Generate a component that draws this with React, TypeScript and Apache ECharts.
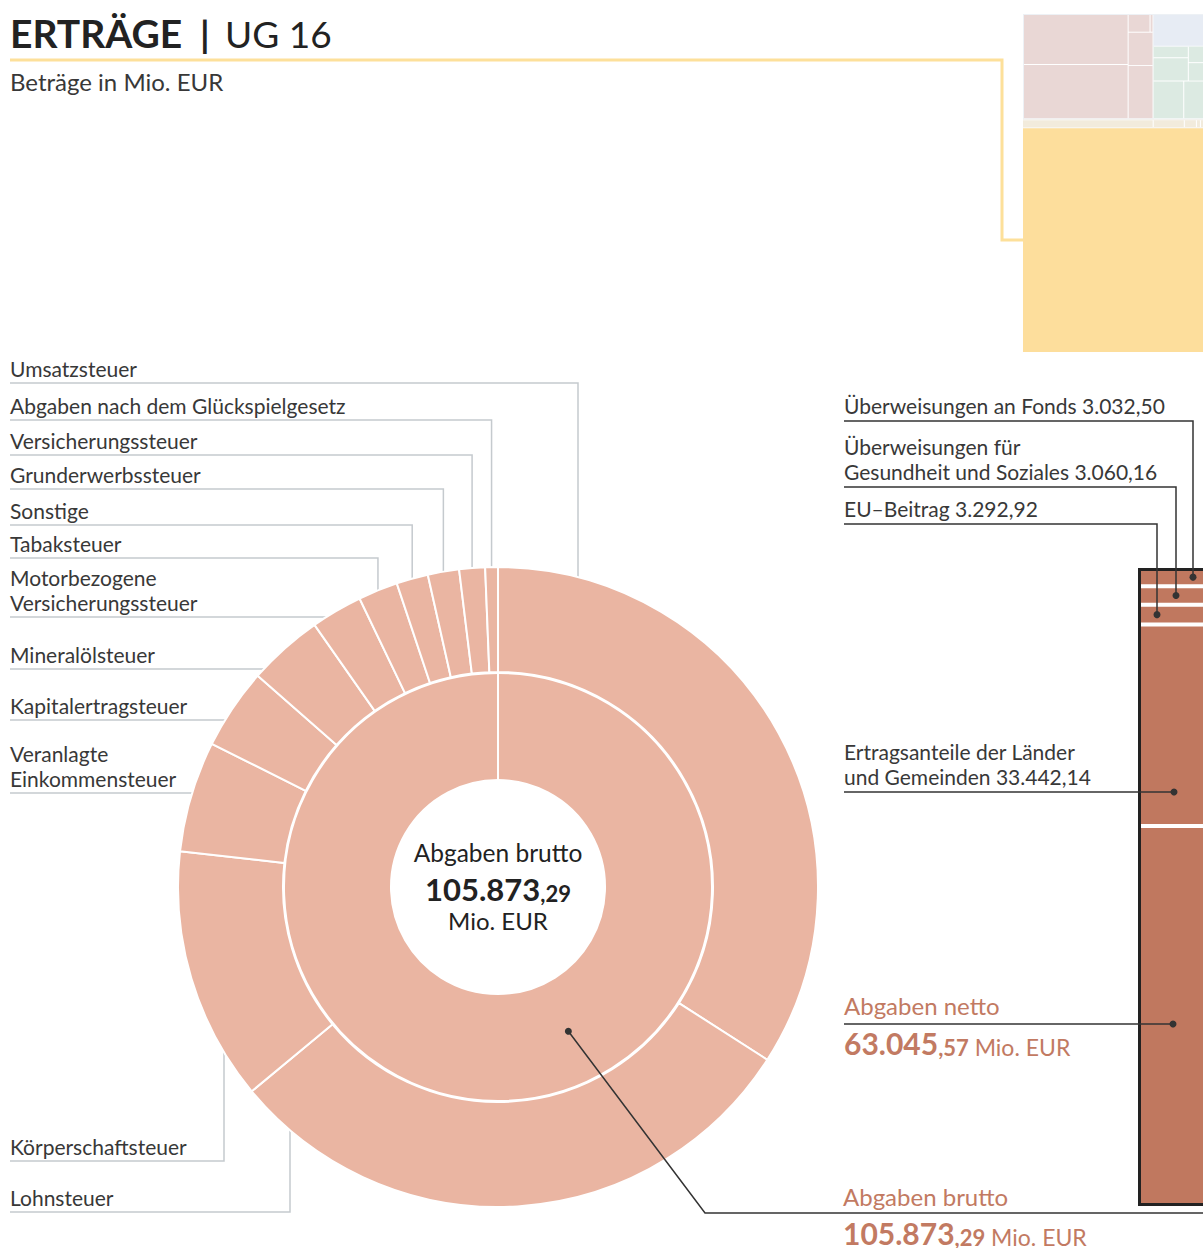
import React, { useEffect, useRef } from 'react';
import * as echarts from 'echarts';

// ---------- data ----------
const BRUTTO_TOTAL = 105873.29;

const taxNames = [
  'Umsatzsteuer',
  'Lohnsteuer',
  'Körperschaftsteuer',
  'Veranlagte Einkommensteuer',
  'Kapitalertragsteuer',
  'Mineralölsteuer',
  'Motorbezogene Versicherungssteuer',
  'Tabaksteuer',
  'Sonstige',
  'Grunderwerbssteuer',
  'Versicherungssteuer',
  'Abgaben nach dem Glückspielgesetz',
];
const taxLabels = [
  'Umsatzsteuer',
  'Lohnsteuer',
  'Körperschaftsteuer',
  'Veranlagte\nEinkommensteuer',
  'Kapitalertragsteuer',
  'Mineralölsteuer',
  'Motorbezogene\nVersicherungssteuer',
  'Tabaksteuer',
  'Sonstige',
  'Grunderwerbssteuer',
  'Versicherungssteuer',
  'Abgaben nach dem Glückspielgesetz',
];
const taxValues = [36081, 31656, 13552, 5929, 4341, 4023, 2753, 2117, 1694, 1673, 1376, 678];

const transferNames = [
  'Überweisungen an Fonds',
  'Überweisungen für Gesundheit und Soziales',
  'EU–Beitrag',
  'Ertragsanteile der Länder und Gemeinden',
  'Abgaben netto',
];
const transferLabels = [
  'Überweisungen an Fonds',
  'Überweisungen für\nGesundheit und Soziales',
  'EU–Beitrag',
  'Ertragsanteile der Länder\nund Gemeinden',
  'Abgaben netto',
];
const transferValues = [3032.5, 3060.16, 3292.92, 33442.14, 63045.57];

// overview treemap (Erträge by budget groups, Mio. EUR)
const pinkLeaves = [8017, 8645, 1272, 2021];
const pinkSmall = [593, 81];
const blueValue = 2778;
const greenTop = [629, 1257, 560, 626];
const greenBottom = [1763, 1536];
const stripValues = [1557, 371, 144, 48, 132];
const ug16Value = 63045.57;

// ---------- layout / style ----------
const CX = 498;
const CY = 887;
const R0 = 107;
const R1 = 214;
const R2 = 215;
const R3 = 320;
const PIE_COLOR = '#EAB5A2';
const BAR_COLOR = '#C0785F';
const ACCENT = '#C27A62';
const TEXT = '#383838';
const FONT = 'Lato, "Open Sans", sans-serif';
const LABEL_FONT = '21px ' + FONT;

// left label layout: index into tax arrays, y of underline, mode of leader
const leftLayout: { i: number; y: number; mode: string; x?: number }[] = [
  { i: 0, y: 383, mode: 'down', x: 578 },
  { i: 11, y: 420, mode: 'mid' },
  { i: 10, y: 455, mode: 'mid' },
  { i: 9, y: 489, mode: 'mid' },
  { i: 8, y: 525, mode: 'mid' },
  { i: 7, y: 558, mode: 'mid' },
  { i: 6, y: 617, mode: 'ring' },
  { i: 5, y: 669, mode: 'ring' },
  { i: 4, y: 720, mode: 'ring' },
  { i: 3, y: 793, mode: 'ring' },
  { i: 2, y: 1161, mode: 'up', x: 224 },
  { i: 1, y: 1212, mode: 'up', x: 290 },
];

// right label layout (bar segments)
const rightLayout: { y: number; dx: number; atMid: boolean }[] = [
  { y: 421, dx: 55, atMid: true },
  { y: 487, dx: 38, atMid: true },
  { y: 524, dx: 19, atMid: true },
  { y: 792, dx: 36, atMid: false },
  { y: 1024, dx: 35, atMid: false },
];

const BAR_LEFT = 1138;
const BAR_TOP = 568;
const BAR_W = 80;
const BAR_H = 638;

function fmt(v: number): string {
  const [i, d] = v.toFixed(2).split('.');
  return i.replace(/\B(?=(\d{3})+(?!\d))/g, '.') + ',' + d;
}

function txt(x: number, y: number, text: string, font: string, fill = TEXT, align = 'left', z = 20) {
  return {
    type: 'text',
    x,
    y,
    z,
    silent: true,
    style: { text, font, fill, textAlign: align, textVerticalAlign: 'middle' },
  };
}

function line(points: number[][], stroke: string, lineWidth: number, z = 15) {
  return {
    type: 'polyline',
    z,
    silent: true,
    shape: { points },
    style: { stroke, lineWidth, fill: 'none' },
  };
}

function valueText(x: number, y: number, v: number, fill: string, align: string, bigSize: number, unit: string, unitSize: number) {
  const [a, b] = fmt(v).split(',');
  return {
    type: 'text',
    x,
    y,
    z: 20,
    silent: true,
    style: {
      text: '{b|' + a + '}{s|,' + b + '}' + (unit ? '{u| ' + unit + '}' : ''),
      textAlign: align,
      textVerticalAlign: 'middle',
      rich: {
        b: { font: 'bold ' + bigSize + 'px ' + FONT, fill, verticalAlign: 'bottom', lineHeight: 36 },
        s: { font: 'bold 22px ' + FONT, fill, verticalAlign: 'bottom', lineHeight: 36 },
        u: { font: unitSize + 'px ' + FONT, fill, verticalAlign: 'bottom', lineHeight: 36 },
      },
    },
  };
}

function leaf(name: string, value: number) {
  return { name, value };
}

function buildTreemapData() {
  const pink = {
    name: 'Rubrik 2',
    itemStyle: { color: '#E9D7D5', borderColor: '#ffffff', gapWidth: 1 },
    children: [
      leaf('UG 20', pinkLeaves[0]),
      leaf('UG 25', pinkLeaves[1]),
      {
        name: 'UG 21/24',
        itemStyle: { borderColor: '#ffffff', gapWidth: 1 },
        children: [leaf('UG 21', pinkSmall[0]), leaf('UG 24', pinkSmall[1])],
      },
      leaf('UG 22', pinkLeaves[2]),
      leaf('UG 23', pinkLeaves[3]),
    ],
  };
  const blue = { name: 'Rubrik 3', value: blueValue, itemStyle: { color: '#E7ECF4' } };
  const green = {
    name: 'Rubrik 4',
    itemStyle: { color: '#DCEAE2', borderColor: '#ffffff', gapWidth: 1 },
    children: [
      {
        name: 'Rubrik 4a',
        itemStyle: { borderColor: '#ffffff', gapWidth: 1 },
        children: greenTop.map((v, k) => leaf('UG 4' + k, v)),
      },
      {
        name: 'Rubrik 4b',
        itemStyle: { borderColor: '#ffffff', gapWidth: 1 },
        children: greenBottom.map((v, k) => leaf('UG 4' + (k + 5), v)),
      },
    ],
  };
  const upper = {
    name: 'Übrige',
    itemStyle: { borderColor: '#EDF1F5', borderWidth: 1, gapWidth: 1 },
    children: [pink, blue, green],
  };
  const strip = {
    name: 'Rubrik 0,1',
    itemStyle: { color: '#F2EBDC', borderColor: '#ffffff', gapWidth: 1 },
    children: stripValues.map((v, k) => leaf('UG 0' + k, v)),
  };
  const ug16 = { name: 'UG 16 Öffentliche Abgaben', value: ug16Value, itemStyle: { color: '#FDDE9C' } };
  return [upper, strip, ug16];
}

export default function App() {
  const ref = useRef<HTMLDivElement>(null);

  useEffect(() => {
    document.body.style.margin = '0';
    document.body.style.overflow = 'hidden';
    if (!ref.current) return;
    const chart = echarts.init(ref.current, undefined, { renderer: 'svg' });

    const taxTotal = taxValues.reduce((a, b) => a + b, 0);
    let acc = 0;
    const mids = taxValues.map((v) => {
      const m = ((acc + v / 2) / taxTotal) * 360;
      acc += v;
      return m;
    });
    const transferTotal = transferValues.reduce((a, b) => a + b, 0);

    const barSeries: any[] = transferNames.map((n, i) => ({
      type: 'bar',
      name: n,
      stack: 'netto',
      data: [transferValues[i]],
      barWidth: BAR_W,
      barGap: '-100%',
      silent: true,
      itemStyle: { color: BAR_COLOR, borderColor: '#ffffff', borderWidth: 2 },
    }));
    barSeries.push({
      type: 'bar',
      name: 'Abgaben brutto',
      data: [transferTotal],
      barWidth: BAR_W,
      barGap: '-100%',
      silent: true,
      z: 5,
      itemStyle: { color: 'rgba(0,0,0,0)', borderColor: '#222222', borderWidth: 3 },
    });

    chart.setOption({
      animation: false,
      grid: { left: BAR_LEFT, top: BAR_TOP, width: BAR_W, height: BAR_H },
      xAxis: { type: 'category', data: ['UG 16'], show: false },
      yAxis: { type: 'value', min: 0, max: transferTotal, inverse: true, show: false },
      series: [
        {
          type: 'treemap',
          left: 1023,
          top: 14,
          width: 188,
          height: 338,
          sort: false,
          squareRatio: 1.1,
          roam: false,
          nodeClick: false,
          silent: true,
          breadcrumb: { show: false },
          label: { show: false },
          upperLabel: { show: false },
          itemStyle: { borderColor: '#ffffff', borderWidth: 0, gapWidth: 1 },
          levels: [
            { itemStyle: { borderColor: '#F4F2EC', borderWidth: 0, gapWidth: 1 } },
          ],
          data: buildTreemapData(),
        },
        {
          type: 'pie',
          name: 'Abgaben brutto',
          center: [CX, CY],
          radius: [R0, R1],
          startAngle: 90,
          clockwise: true,
          silent: true,
          z: 2,
          label: { show: false },
          labelLine: { show: false },
          itemStyle: { color: PIE_COLOR, borderColor: '#ffffff', borderWidth: 2 },
          data: [{ name: 'Abgaben brutto', value: BRUTTO_TOTAL }],
        },
        {
          type: 'pie',
          name: 'Abgaben',
          center: [CX, CY],
          radius: [R2, R3],
          startAngle: 90,
          clockwise: true,
          silent: true,
          z: 2,
          minAngle: 0,
          label: { show: false },
          labelLine: { show: false },
          itemStyle: { color: PIE_COLOR, borderColor: '#ffffff', borderWidth: 2 },
          data: taxNames.map((n, i) => ({ name: n, value: taxValues[i] })),
        },
        ...barSeries,
      ],
    });

    const g: any[] = [];
    // title
    g.push(txt(10, 33, 'ERTRÄGE', 'bold 39px ' + FONT, '#222222'));
    g.push(txt(200, 33, '|', 'bold 37px ' + FONT, '#222222'));
    g.push(txt(225, 33, 'UG 16', '37px ' + FONT, '#222222'));
    g.push(txt(10, 81, 'Beträge in Mio. EUR', '24px ' + FONT, TEXT));
    g.push(line([[10, 60], [1002, 60], [1002, 240], [1023, 240]], '#FDE09A', 3, 5));

    // left labels
    leftLayout.forEach((L) => {
      const parts = taxLabels[L.i].split('\n');
      parts.forEach((p, k) => {
        const yy = L.y - 15 - (parts.length - 1 - k) * 25;
        g.push(txt(10, yy, p, LABEL_FONT, TEXT));
      });
      let pts: number[][];
      if (L.mode === 'ring') {
        const xe = CX - Math.sqrt(R3 * R3 - (CY - L.y) * (CY - L.y));
        pts = [[10, L.y], [xe, L.y]];
      } else {
        const x = L.mode === 'mid' ? CX + R3 * Math.sin((mids[L.i] * Math.PI) / 180) : (L.x as number);
        const h = Math.sqrt(R3 * R3 - (x - CX) * (x - CX));
        const ye = L.mode === 'up' ? CY + h : CY - h;
        pts = [[10, L.y], [x, L.y], [x, ye]];
      }
      g.push(line(pts, '#C5CACE', 1.5, 1));
    });

    // inner ring seam
    g.push({
      type: 'line',
      z: 10,
      silent: true,
      shape: { x1: CX, y1: CY - R0, x2: CX, y2: CY - R1 },
      style: { stroke: '#ffffff', lineWidth: 2 },
    });

    // centre text
    g.push(txt(CX, 852, 'Abgaben brutto', '24.5px ' + FONT, '#222222', 'center'));
    g.push(valueText(CX, 886, BRUTTO_TOTAL, '#222222', 'center', 31, '', 22));
    g.push(txt(CX, 920, 'Mio. EUR', '24px ' + FONT, '#222222', 'center'));

    // right labels and leaders
    let cum = 0;
    transferValues.forEach((v, i) => {
      const L = rightLayout[i];
      const mid = cum + v / 2;
      cum += v;
      const p = chart.convertToPixel({ gridIndex: 0 }, [0, mid]) as number[];
      const dotX = BAR_LEFT + L.dx;
      const dotY = L.atMid ? p[1] : L.y;
      if (i < 4) {
        const parts = (transferLabels[i] + ' ' + fmt(v)).split('\n');
        parts.forEach((t, k) => {
          const yy = L.y - 16 - (parts.length - 1 - k) * 25;
          g.push(txt(844, yy, t, LABEL_FONT, TEXT));
        });
      } else {
        g.push(txt(844, L.y - 19, transferLabels[i], '24px ' + FONT, ACCENT));
        g.push(valueText(844, L.y + 16, v, ACCENT, 'left', 30, 'Mio. EUR', 23));
      }
      const pts = L.atMid ? [[844, L.y], [dotX, L.y], [dotX, dotY]] : [[844, L.y], [dotX, dotY]];
      g.push(line(pts, '#333333', 1.5, 15));
      g.push({
        type: 'circle',
        z: 16,
        silent: true,
        shape: { cx: dotX, cy: dotY, r: 3.5 },
        style: { fill: '#333333' },
      });
    });

    // brutto leader from inner ring
    const ang = (154 * Math.PI) / 180;
    const rm = (R0 + R1) / 2;
    const bx = CX + rm * Math.sin(ang);
    const by = CY - rm * Math.cos(ang);
    const BRUTTO_Y = 1213;
    g.push(line([[bx, by], [705, BRUTTO_Y], [1260, BRUTTO_Y]], '#333333', 1.5, 15));
    g.push({ type: 'circle', z: 16, silent: true, shape: { cx: bx, cy: by, r: 3.5 }, style: { fill: '#333333' } });
    g.push(txt(843, BRUTTO_Y - 17, 'Abgaben brutto', '24px ' + FONT, ACCENT));
    g.push(valueText(843, BRUTTO_Y + 17, BRUTTO_TOTAL, ACCENT, 'left', 30, 'Mio. EUR', 23));

    chart.setOption({ graphic: { elements: g } });

    return () => {
      chart.dispose();
    };
  }, []);

  return (
    <div style={{ position: 'relative', width: 1203, height: 1248, overflow: 'hidden' }}>
      <div ref={ref} style={{ width: 1260, height: 1248 }} />
    </div>
  );
}
